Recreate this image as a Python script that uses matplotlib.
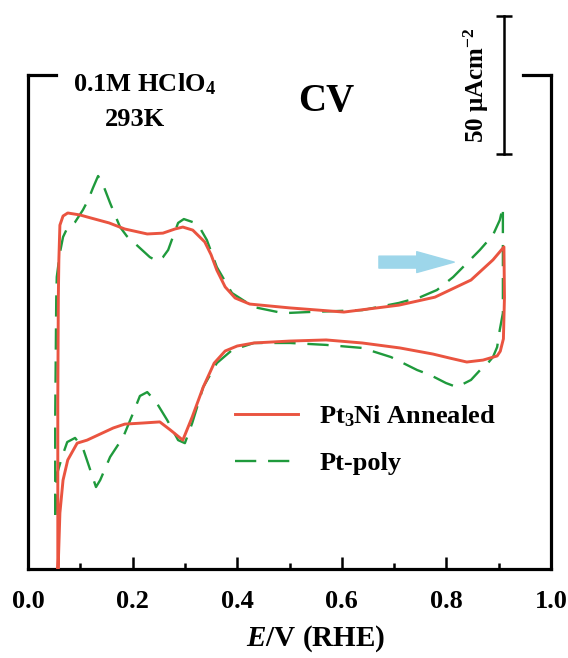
import matplotlib
matplotlib.use("Agg")
import matplotlib.pyplot as plt
from matplotlib.lines import Line2D

plt.rcParams["font.family"] = ["Liberation Serif", "DejaVu Serif"]
plt.rcParams["font.weight"] = "bold"
plt.rcParams["mathtext.fontset"] = "custom"
plt.rcParams["mathtext.rm"] = "Liberation Serif:bold"
plt.rcParams["mathtext.bf"] = "Liberation Serif:bold"
plt.rcParams["mathtext.it"] = "Liberation Serif:italic:bold"

# Pt3Ni annealed: potential (V vs RHE) and current density (uA cm^-2), anodic then cathodic sweep
red_E = [0.057, 0.057, 0.058, 0.059, 0.061, 0.067, 0.076, 0.099, 0.120, 0.155,
         0.185, 0.228, 0.258, 0.281, 0.296, 0.315, 0.338, 0.350, 0.361, 0.377, 0.396,
         0.424, 0.501, 0.604, 0.709, 0.778, 0.847, 0.889, 0.910,
         0.911, 0.909, 0.903, 0.897, 0.870, 0.839, 0.807, 0.774, 0.711, 0.639,
         0.570, 0.501, 0.432, 0.400, 0.377, 0.356, 0.335, 0.314, 0.296, 0.272, 0.252,
         0.220, 0.185, 0.163, 0.113, 0.094, 0.076, 0.067, 0.061, 0.059, 0.057]
red_j = [-92.0, -27.0, 10.0, 23.6, 36.2, 39.5, 40.6, 39.9, 38.8, 37.0,
         34.8, 33.0, 33.3, 34.8, 35.5, 34.4, 30.1, 25.5, 19.9, 13.8, 9.8,
         7.6, 6.2, 4.7, 7.2, 10.1, 16.3, 23.6, 28.3,
         10.0, -5.0, -9.5, -11.2, -12.7, -13.4, -12.0, -10.5, -8.3, -6.5,
         -5.4, -5.8, -6.5, -7.6, -9.4, -13.8, -22.5, -33.3, -41.7, -38.0, -35.1,
         -35.5, -35.9, -37.3, -41.7, -42.8, -48.9, -56.2, -68.1, -80.0, -92.0]

# Polycrystalline Pt
green_E = [0.052, 0.052, 0.054, 0.055, 0.061, 0.067, 0.075, 0.090, 0.105, 0.115,
           0.124, 0.134, 0.143, 0.157, 0.176, 0.189, 0.210, 0.233, 0.247, 0.258,
           0.268, 0.277, 0.287, 0.298, 0.315, 0.329, 0.342, 0.361, 0.390, 0.432,
           0.488, 0.535, 0.639, 0.709, 0.750, 0.782, 0.813, 0.864, 0.889, 0.902,
           0.908,
           0.908, 0.908, 0.902, 0.897, 0.889, 0.878, 0.868, 0.847, 0.820, 0.799,
           0.769, 0.744, 0.694, 0.639, 0.570, 0.501, 0.432, 0.390, 0.361, 0.335,
           0.314, 0.300, 0.287, 0.266, 0.245, 0.228, 0.214, 0.201, 0.182, 0.157,
           0.138, 0.130, 0.119, 0.105, 0.090, 0.075, 0.065, 0.055, 0.052]
green_j = [-68.8, -34.4, 9.1, 17.4, 26.1, 31.9, 35.1, 37.3, 41.7, 45.3,
           49.6, 54.0, 51.1, 44.2, 35.5, 32.2, 28.6, 24.6, 23.2, 24.6,
           27.2, 31.9, 37.0, 38.4, 37.3, 35.1, 30.8, 21.0, 11.6, 6.5,
           4.3, 4.7, 5.4, 8.0, 10.1, 12.7, 17.4, 27.2, 32.6, 38.0,
           42.8,
           30.8, 4.3, -1.8, -8.0, -11.6, -14.1, -15.6, -19.9, -22.5, -21.0,
           -18.1, -16.3, -11.6, -8.3, -7.2, -6.5, -6.5, -9.1, -13.8, -22.5,
           -35.5, -42.8, -41.7, -34.4, -27.9, -24.3, -25.7, -31.9, -40.6, -47.8,
           -56.2, -58.7, -52.5, -44.6, -40.9, -42.4, -47.8, -54.3, -68.8]

series_labels = ["Pt$_3$Ni Annealed", "Pt-poly"]
xtick_values = [0.0, 0.2, 0.4, 0.6, 0.8, 1.0]
xtick_labels = ["0.0", "0.2", "0.4", "0.6", "0.8", "1.0"]
scale_bar_value = 50  # uA cm^-2

RED = "#EA5440"
GREEN = "#1F9A3C"
ARROW = "#9DD6EA"

W, H = 568, 658
fig = plt.figure(figsize=(W / 100, H / 100), dpi=100)


def fx(px):
    return px / W


def fy(py):
    return 1 - py / H


ax = fig.add_axes([fx(28), fy(569), 523 / W, 494 / H])
ax.set_xlim(0, 1)
ax.set_ylim(-88.4, 90.6)

ax.plot(red_E, red_j, color=RED, lw=2.1, solid_joinstyle="round",
        label=series_labels[0], zorder=3)
ax.plot(green_E, green_j, color=GREEN, lw=1.7, dashes=(9, 5),
        label=series_labels[1], zorder=2)

# frame: open top with short stubs at each corner
for side in ("left", "right", "bottom"):
    ax.spines[side].set_linewidth(2.3)
ax.spines["top"].set_visible(False)
for x0, x1 in ((0, 0.054), (0.946, 1.0)):
    ax.add_line(Line2D([x0, x1], [1, 1], transform=ax.transAxes, color="black",
                       lw=2.3, solid_capstyle="projecting", clip_on=False))

ax.set_yticks([])
ax.set_xticks(xtick_values)
ax.set_xticklabels(xtick_labels, fontsize=19, fontweight="bold")
ax.set_xticks([0.1, 0.3, 0.5, 0.7, 0.9], minor=True)
ax.tick_params(axis="x", which="major", direction="in", length=8.6, width=1.8, pad=15)
ax.tick_params(axis="x", which="minor", direction="in", length=4.3, width=1.8)

# scale bar for current density
sb_x, sb_top = 0.91, 112
ax.plot([sb_x, sb_x], [sb_top - scale_bar_value, sb_top], color="black", lw=1.8,
        marker="_", markersize=11, mew=1.8, clip_on=False)
ax.text(0.858, sb_top - scale_bar_value / 2, "50 \u03bcAcm$^{-2}$", rotation=90,
        ha="center", va="center", fontsize=18, clip_on=False)

# sweep direction arrow
ax.annotate("", xy=(0.815, 22.8), xytext=(0.671, 22.8),
            arrowprops=dict(arrowstyle="simple,head_length=1.35,head_width=0.75,tail_width=0.43",
                            color=ARROW, shrinkA=0, shrinkB=0, mutation_scale=20),
            zorder=4)

fig.text(fx(144), fy(84), "0.1M HClO$_4$", ha="center", va="center", fontsize=19)
fig.text(fx(135), fy(119), "293K", ha="center", va="center", fontsize=19)
fig.text(fx(326), fy(101), "CV", ha="center", va="center", fontsize=28)
fig.text(fx(316), fy(639), "$\\mathit{E}$/V (RHE)", ha="center", va="center", fontsize=21)

ax.legend(loc="center left", bbox_to_anchor=((235 - 28) / 523, (569 - 439) / 494),
          frameon=False, fontsize=19, handlelength=2.4, handletextpad=0.8,
          labelspacing=0.85, borderpad=0, borderaxespad=0)

fig.savefig("out.png", dpi=100)
